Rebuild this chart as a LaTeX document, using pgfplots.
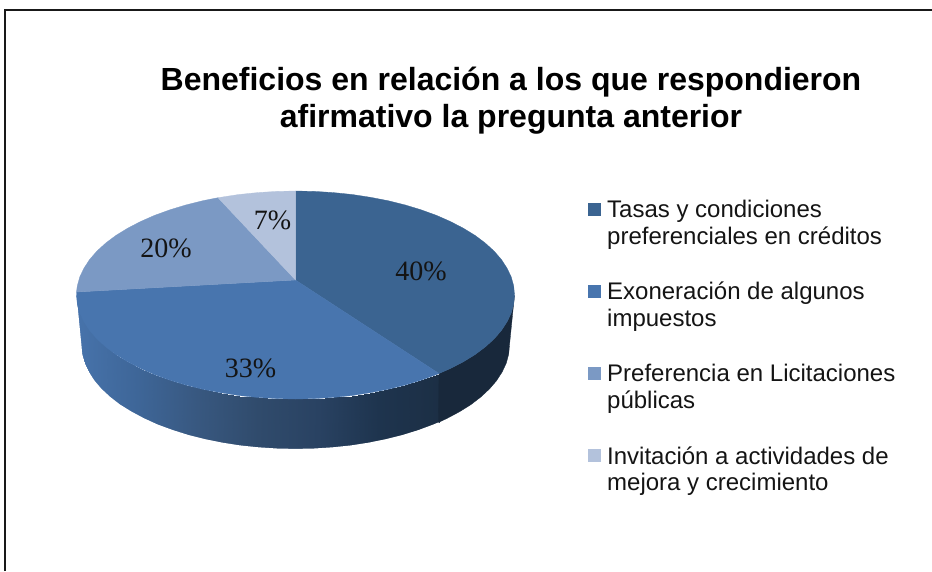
\documentclass[border=0pt]{standalone}
\usepackage{fontspec}
\setmainfont{Liberation Sans}
\newfontfamily\lblfont{Liberation Serif}
\usepackage{pgfplots}
\pgfplotsset{compat=1.18}
\definecolor{cA}{HTML}{3B6491}
\definecolor{cB}{HTML}{4875AE}
\definecolor{cC}{HTML}{7B99C4}
\definecolor{cD}{HTML}{B3C2DC}
\definecolor{cSideA}{HTML}{18283B}
\newcommand{\ttl}[3]{\node[anchor=base,inner sep=0pt,font=\fontsize{32}{36}\selectfont\bfseries] at (axis cs:#1,#2) {#3};}
\newcommand{\leg}[3]{\node[anchor=base west,inner sep=0pt,font=\fontsize{24}{28}\selectfont,text=black!92] at (axis cs:#1,#2) {#3};}
\newcommand{\lbl}[3]{\node[anchor=base,inner sep=0pt,font=\fontsize{28}{32}\selectfont\lblfont,text=black!92] at (axis cs:#1,#2) {#3};}
\begin{document}
\begin{tikzpicture}[x=1pt,y=1pt]
\useasboundingbox (0,0) rectangle (932pt,571pt);
\begin{axis}[at={(0,0)},anchor=south west,hide axis,scale only axis,width=932pt,height=571pt,
 xmin=0,xmax=932,ymin=0,ymax=571,y dir=reverse,clip=false,
 colormap={sideB}{rgb255=(71,115,171); rgb255=(62,102,152); rgb255=(56,88,128); rgb255=(48,75,108); rgb255=(41,66,98); rgb255=(30,52,78); rgb255=(28,47,69)},
 point meta min=76.5,point meta max=439]
% side of the 33% slice
\addplot[surf,shader=interp,point meta=x,mesh/rows=2,mesh/cols=28,mesh/ordering=x varies] coordinates {
(76.5,295)(77.3,304.1)(79.8,313.1)(84.0,321.9)(89.7,330.6)(97.0,339.0)(105.8,347.0)(116.1,354.7)(127.7,361.8)(140.6,368.5)(154.7,374.7)(169.9,380.2)(186.0,385.1)(202.9,389.3)(220.6,392.7)(238.8,395.5)(257.5,397.4)(276.4,398.6)(295.5,399)(314.6,398.6)(333.5,397.4)(352.2,395.5)(370.4,392.7)(388.1,389.3)(405.0,385.1)(421.1,380.2)(436.3,374.7)(439,373.5)
(81.5,345)(82.3,354.1)(84.7,363.1)(88.8,371.9)(94.4,380.6)(101.6,389.0)(110.2,397.0)(120.2,404.7)(131.6,411.8)(144.2,418.5)(157.9,424.7)(172.8,430.2)(188.5,435.1)(205.1,439.3)(222.3,442.7)(240.1,445.5)(258.3,447.4)(276.9,448.6)(295.5,449)(314.2,448.6)(332.7,447.4)(350.9,445.5)(368.7,442.7)(385.9,439.3)(402.5,435.1)(418.2,430.2)(433.1,424.7)(438.5,422.4)
};
% clean outer edge of the shaded side
\addplot[draw=white,line width=2.4pt] coordinates {
(75.3,295)(80.2,345)(81.0,354.2)(83.4,363.3)(87.6,372.2)(93.2,381.0)(100.4,389.5)(109.1,397.6)(119.1,405.4)(130.6,412.5)(143.3,419.3)(157.1,425.6)(172.1,431.1)(187.9,436.1)(204.6,440.3)(221.9,443.8)(239.8,446.6)(258.1,448.5)(276.8,449.7)(295.5,450.1)(314.3,449.7)(332.9,448.5)(351.2,446.6)(369.1,443.8)(386.4,440.3)(403.1,436.1)(418.9,431.2)(433.9,425.6)(439.4,423.3)
};
% side of the 40% slice
\addplot[fill=cSideA,draw=cSideA,line width=0.3pt] coordinates {
(439,373.5)(450.4,368.5)(463.3,361.8)(474.9,354.7)(485.2,347.0)(494.0,339.0)(501.3,330.6)(507.0,321.9)(511.2,313.1)(513.7,304.1)(514.5,295)
(509.5,345)(508.7,354.1)(506.3,363.1)(502.2,371.9)(496.6,380.6)(489.4,389.0)(480.8,397.0)(470.8,404.7)(459.4,411.8)(446.8,418.5)(438.5,422.4)
} --cycle;
% top: 40%
\addplot[fill=cA,draw=cA,line width=0.3pt] coordinates {
(295.5,280)(295.5,191)(314.6,191.4)(333.5,192.6)(352.2,194.5)(370.4,197.3)(388.1,200.7)(405.0,204.9)(421.1,209.8)(436.3,215.3)(450.4,221.5)(463.3,228.2)(474.9,235.3)(485.2,243.0)(494.0,251.0)(501.3,259.4)(507.0,268.1)(511.2,276.9)(513.7,285.9)(514.5,295)(513.7,304.1)(511.2,313.1)(507.0,321.9)(501.3,330.6)(494.0,339.0)(485.2,347.0)(474.9,354.7)(463.3,361.8)(450.4,368.5)(439,373.5)
} --cycle;
% top: 33%
\addplot[fill=cB,draw=cB,line width=0.3pt] coordinates {
(295.5,280)(439,373.5)(436.3,374.7)(421.1,380.2)(405.0,385.1)(388.1,389.3)(370.4,392.7)(352.2,395.5)(333.5,397.4)(314.6,398.6)(295.5,399)(276.4,398.6)(257.5,397.4)(238.8,395.5)(220.6,392.7)(202.9,389.3)(186.0,385.1)(169.9,380.2)(154.7,374.7)(140.6,368.5)(127.7,361.8)(116.1,354.7)(105.8,347.0)(97.0,339.0)(89.7,330.6)(84.0,321.9)(79.8,313.1)(77.3,304.1)(76.5,295)(76.5,292)
} --cycle;
% top: 20%
\addplot[fill=cC,draw=cC,line width=0.3pt] coordinates {
(295.5,280)(76.5,292)(77.3,285.9)(79.8,276.9)(84.0,268.1)(89.7,259.4)(97.0,251.0)(105.8,243.0)(116.1,235.3)(127.7,228.2)(140.6,221.5)(154.7,215.3)(169.9,209.8)(186.0,204.9)(202.9,200.7)(218,197.7)
} --cycle;
% top: 7%
\addplot[fill=cD,draw=cD,line width=0.3pt] coordinates {
(295.5,280)(218,197.7)(220.6,197.3)(238.8,194.5)(257.5,192.6)(276.4,191.4)(295.5,191)
} --cycle;
% legend swatches
\addplot[fill=cA,draw=none] coordinates {(588,203)(601,203)(601,216)(588,216)} --cycle;
\addplot[fill=cB,draw=none] coordinates {(588,285)(601,285)(601,298)(588,298)} --cycle;
\addplot[fill=cC,draw=none] coordinates {(588,367)(601,367)(601,380)(588,380)} --cycle;
\addplot[fill=cD,draw=none] coordinates {(588,449)(601,449)(601,462)(588,462)} --cycle;
% frame
\addplot[draw=black!90,line width=2pt] coordinates {(5,571)(5,10)(932,10)};
\ttl{511}{90}{Beneficios en relación a los que respondieron}
\ttl{511}{127}{afirmativo la pregunta anterior}
\leg{607}{217}{Tasas y condiciones}
\leg{607}{244.5}{preferenciales en créditos}
\leg{607}{299}{Exoneración de algunos}
\leg{607}{326.7}{impuestos}
\leg{607}{381}{Preferencia en Licitaciones}
\leg{607}{408}{públicas}
\leg{607}{464}{Invitación a actividades de}
\leg{607}{490.7}{mejora y crecimiento}
\lbl{421}{280.7}{40\%}
\lbl{250.5}{377}{33\%}
\lbl{166}{257}{20\%}
\lbl{272.5}{229}{7\%}
\end{axis}
\end{tikzpicture}
\end{document}
